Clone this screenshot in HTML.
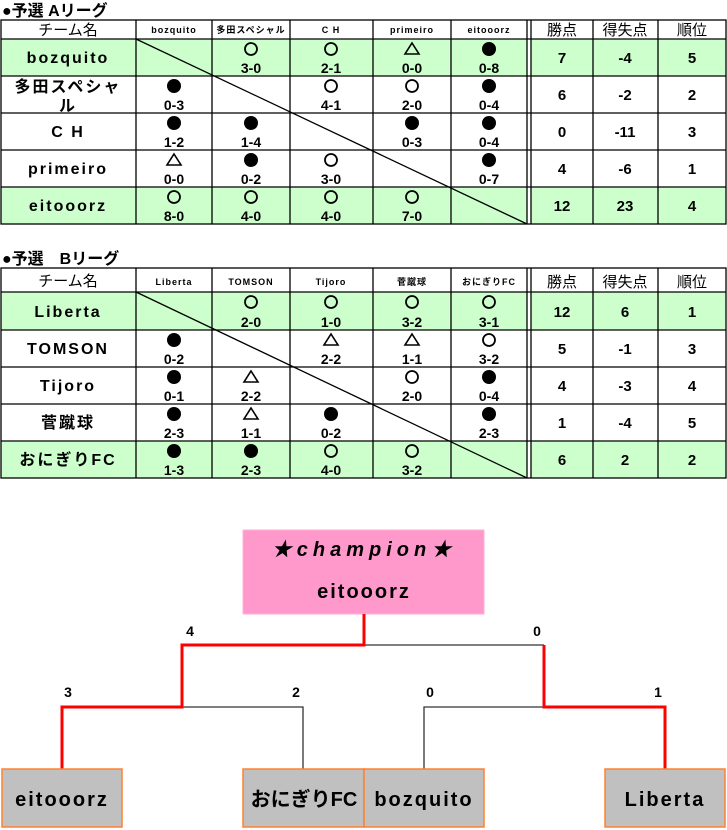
<!DOCTYPE html>
<html><head><meta charset="utf-8"><style>
html,body{margin:0;padding:0;background:#fff;width:727px;height:830px;overflow:hidden}
svg{display:block;font-family:"Liberation Sans Narrow","Liberation Sans","Noto Sans CJK JP",sans-serif}
.n{font-size:16px;font-weight:bold;letter-spacing:2px;text-anchor:middle}
.s{font-size:14px;font-weight:bold;text-anchor:middle}
.h{font-size:9px;text-anchor:middle;letter-spacing:1px;font-weight:bold}
.hj{font-size:15px;text-anchor:middle}
.v{font-size:15px;font-weight:bold;text-anchor:middle}
.t{font-size:16px;font-weight:bold}
</style></head><body>
<svg width="727" height="830" viewBox="0 0 727 830" xmlns="http://www.w3.org/2000/svg">
<defs>
<circle id="o" r="6" fill="none" stroke="#000" stroke-width="1.8"/>
<circle id="b" r="7" fill="#000"/>
<polygon id="t" points="0,-6 7,5 -7,5" fill="none" stroke="#000" stroke-width="1.6"/>
</defs>

<text x="2" y="16" class="t" font-family="Liberation Sans, Noto Sans CJK JP, sans-serif">●予選 Aリーグ</text>
<rect x="1" y="39" width="526" height="37" fill="#ccffcc"/>
<rect x="1" y="187" width="526" height="37" fill="#ccffcc"/>
<rect x="531" y="39" width="195" height="37" fill="#ccffcc"/>
<rect x="531" y="187" width="195" height="37" fill="#ccffcc"/>
<g stroke="#000" stroke-width="1.3" fill="none">
<rect x="1" y="20" width="725" height="204"/>
<path d="M1 39H726M1 76H726M1 113H726M1 150H726M1 187H726"/>
<path d="M136 20V224M212 20V224M290 20V224M373 20V224M451 20V224M527 20V224M531 20V224M593 20V224M658 20V224"/>
<line x1="136" y1="39" x2="527" y2="224"/>
</g>
<text x="68" y="35" class="hj">チーム名</text>
<text x="174" y="33" class="h">bozquito</text>
<text x="251" y="33" class="h" letter-spacing="0">多田スペシャル</text>
<text x="331" y="33" class="h">C H</text>
<text x="412" y="33" class="h">primeiro</text>
<text x="489" y="33" class="h">eitooorz</text>
<text x="562" y="35" class="hj">勝点</text>
<text x="625" y="35" class="hj">得失点</text>
<text x="692" y="35" class="hj">順位</text>

<text x="68" y="63" class="n">bozquito</text>
<text x="68" y="92" class="n">多田スペシャ</text>
<text x="68" y="111" class="n">ル</text>
<text x="68" y="137" class="n">C H</text>
<text x="68" y="174" class="n">primeiro</text>
<text x="68" y="211" class="n">eitooorz</text>

<use href="#o" x="251" y="49"/><text x="251" y="73" class="s">3-0</text>
<use href="#o" x="331" y="49"/><text x="331" y="73" class="s">2-1</text>
<use href="#t" x="412" y="49"/><text x="412" y="73" class="s">0-0</text>
<use href="#b" x="489" y="49"/><text x="489" y="73" class="s">0-8</text>
<text x="562" y="63" class="v">7</text><text x="625" y="63" class="v">-4</text><text x="692" y="63" class="v">5</text>
<use href="#b" x="174" y="86"/><text x="174" y="110" class="s">0-3</text>
<use href="#o" x="331" y="86"/><text x="331" y="110" class="s">4-1</text>
<use href="#o" x="412" y="86"/><text x="412" y="110" class="s">2-0</text>
<use href="#b" x="489" y="86"/><text x="489" y="110" class="s">0-4</text>
<text x="562" y="100" class="v">6</text><text x="625" y="100" class="v">-2</text><text x="692" y="100" class="v">2</text>
<use href="#b" x="174" y="123"/><text x="174" y="147" class="s">1-2</text>
<use href="#b" x="251" y="123"/><text x="251" y="147" class="s">1-4</text>
<use href="#b" x="412" y="123"/><text x="412" y="147" class="s">0-3</text>
<use href="#b" x="489" y="123"/><text x="489" y="147" class="s">0-4</text>
<text x="562" y="137" class="v">0</text><text x="625" y="137" class="v">-11</text><text x="692" y="137" class="v">3</text>
<use href="#t" x="174" y="160"/><text x="174" y="184" class="s">0-0</text>
<use href="#b" x="251" y="160"/><text x="251" y="184" class="s">0-2</text>
<use href="#o" x="331" y="160"/><text x="331" y="184" class="s">3-0</text>
<use href="#b" x="489" y="160"/><text x="489" y="184" class="s">0-7</text>
<text x="562" y="174" class="v">4</text><text x="625" y="174" class="v">-6</text><text x="692" y="174" class="v">1</text>
<use href="#o" x="174" y="197"/><text x="174" y="221" class="s">8-0</text>
<use href="#o" x="251" y="197"/><text x="251" y="221" class="s">4-0</text>
<use href="#o" x="331" y="197"/><text x="331" y="221" class="s">4-0</text>
<use href="#o" x="412" y="197"/><text x="412" y="221" class="s">7-0</text>
<text x="562" y="211" class="v">12</text><text x="625" y="211" class="v">23</text><text x="692" y="211" class="v">4</text>

<text x="2" y="264" class="t" font-family="Liberation Sans, Noto Sans CJK JP, sans-serif">●予選　Bリーグ</text>
<rect x="1" y="292" width="526" height="38" fill="#ccffcc"/>
<rect x="1" y="441" width="526" height="37" fill="#ccffcc"/>
<rect x="531" y="292" width="195" height="38" fill="#ccffcc"/>
<rect x="531" y="441" width="195" height="37" fill="#ccffcc"/>
<g stroke="#000" stroke-width="1.3" fill="none">
<rect x="1" y="268" width="725" height="210"/>
<path d="M1 292H726M1 330H726M1 367H726M1 404H726M1 441H726"/>
<path d="M136 268V478M212 268V478M290 268V478M373 268V478M451 268V478M527 268V478M531 268V478M593 268V478M658 268V478"/>
<line x1="136" y1="292" x2="527" y2="478"/>
</g>
<text x="68" y="286" class="hj">チーム名</text>
<text x="174" y="285" class="h">Liberta</text>
<text x="251" y="285" class="h" font-size="7" letter-spacing="0">TOMSON</text>
<text x="331" y="285" class="h">Tijoro</text>
<text x="412" y="285" class="h" font-size="10">菅蹴球</text>
<text x="489" y="285" class="h" font-size="10" letter-spacing="0">おにぎりFC</text>
<text x="562" y="287" class="hj">勝点</text>
<text x="625" y="287" class="hj">得失点</text>
<text x="692" y="287" class="hj">順位</text>

<text x="68" y="317" class="n">Liberta</text>
<text x="68" y="354" class="n" letter-spacing="0">TOMSON</text>
<text x="68" y="391" class="n">Tijoro</text>
<text x="68" y="428" class="n">菅蹴球</text>
<text x="68" y="465" class="n" letter-spacing="0">おにぎりFC</text>

<use href="#o" x="251" y="302"/><text x="251" y="327" class="s">2-0</text>
<use href="#o" x="331" y="302"/><text x="331" y="327" class="s">1-0</text>
<use href="#o" x="412" y="302"/><text x="412" y="327" class="s">3-2</text>
<use href="#o" x="489" y="302"/><text x="489" y="327" class="s">3-1</text>
<text x="562" y="317" class="v">12</text><text x="625" y="317" class="v">6</text><text x="692" y="317" class="v">1</text>
<use href="#b" x="174" y="340"/><text x="174" y="364" class="s">0-2</text>
<use href="#t" x="331" y="340"/><text x="331" y="364" class="s">2-2</text>
<use href="#t" x="412" y="340"/><text x="412" y="364" class="s">1-1</text>
<use href="#o" x="489" y="340"/><text x="489" y="364" class="s">3-2</text>
<text x="562" y="354" class="v">5</text><text x="625" y="354" class="v">-1</text><text x="692" y="354" class="v">3</text>
<use href="#b" x="174" y="377"/><text x="174" y="401" class="s">0-1</text>
<use href="#t" x="251" y="377"/><text x="251" y="401" class="s">2-2</text>
<use href="#o" x="412" y="377"/><text x="412" y="401" class="s">2-0</text>
<use href="#b" x="489" y="377"/><text x="489" y="401" class="s">0-4</text>
<text x="562" y="391" class="v">4</text><text x="625" y="391" class="v">-3</text><text x="692" y="391" class="v">4</text>
<use href="#b" x="174" y="414"/><text x="174" y="438" class="s">2-3</text>
<use href="#t" x="251" y="414"/><text x="251" y="438" class="s">1-1</text>
<use href="#b" x="331" y="414"/><text x="331" y="438" class="s">0-2</text>
<use href="#b" x="489" y="414"/><text x="489" y="438" class="s">2-3</text>
<text x="562" y="428" class="v">1</text><text x="625" y="428" class="v">-4</text><text x="692" y="428" class="v">5</text>
<use href="#b" x="174" y="451"/><text x="174" y="475" class="s">1-3</text>
<use href="#b" x="251" y="451"/><text x="251" y="475" class="s">2-3</text>
<use href="#o" x="331" y="451"/><text x="331" y="475" class="s">4-0</text>
<use href="#o" x="412" y="451"/><text x="412" y="475" class="s">3-2</text>
<text x="562" y="465" class="v">6</text><text x="625" y="465" class="v">2</text><text x="692" y="465" class="v">2</text>

<rect x="243" y="530" width="241" height="84" fill="#ff99cc" stroke="#ffb0d8" stroke-width="1"/>
<text x="364" y="556" text-anchor="middle" font-size="20" font-weight="bold" font-style="italic" letter-spacing="5">★champion★</text>
<text x="364" y="598" text-anchor="middle" font-size="20" font-weight="bold" letter-spacing="2">eitooorz</text>

<g fill="none" stroke-width="1.3" stroke="#333">
<path d="M364 645H544"/>
<path d="M182 707H303V769"/>
<path d="M424 769V707H544"/>
</g>
<g fill="none" stroke-width="3" stroke="#ff0000">
<path d="M364 614V645H182V707H62V769"/>
<path d="M544 645V707H665V769"/>
</g>
<g font-size="14" font-weight="bold" text-anchor="middle">
<text x="190" y="636">4</text>
<text x="537" y="636">0</text>
<text x="68" y="697">3</text>
<text x="296" y="697">2</text>
<text x="430" y="697">0</text>
<text x="658" y="697">1</text>
</g>
<g fill="#c0c0c0" stroke="#ff8030" stroke-width="1.5">
<rect x="2" y="769" width="120" height="58"/>
<rect x="243" y="769" width="121" height="58"/>
<rect x="364" y="769" width="120" height="58"/>
<rect x="605" y="769" width="120" height="58"/>
</g>
<g font-size="20" font-weight="bold" text-anchor="middle">
<text x="62" y="806" letter-spacing="2">eitooorz</text>
<text x="304" y="806">おにぎりFC</text>
<text x="424" y="806" letter-spacing="2">bozquito</text>
<text x="665" y="806" letter-spacing="2">Liberta</text>
</g>
</svg>
</body></html>
